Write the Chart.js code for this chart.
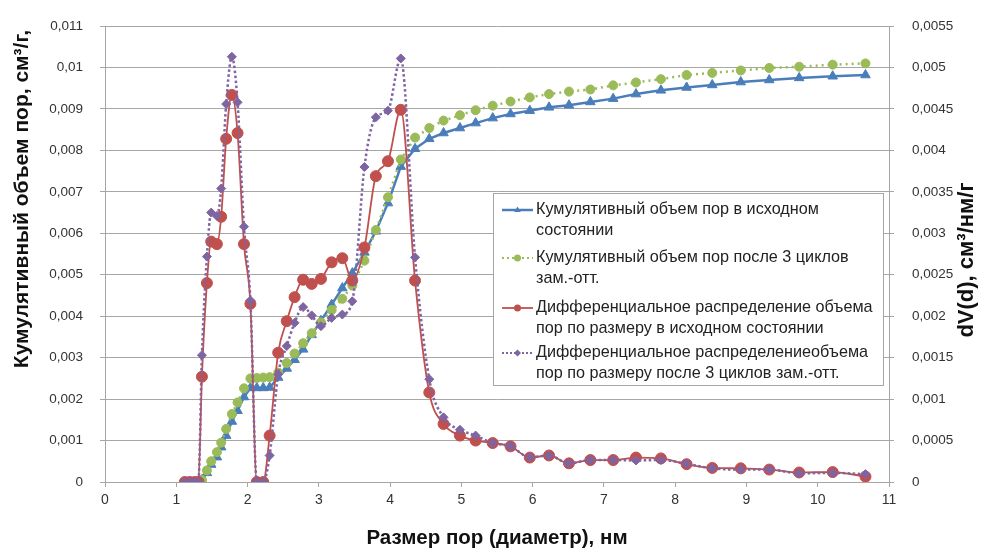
<!DOCTYPE html>
<html><head><meta charset="utf-8">
<script src="https://cdn.jsdelivr.net/npm/chart.js@4.4.1/dist/chart.umd.min.js"></script>
<style>html,body{margin:0;padding:0;background:#fff;}canvas{display:block;}</style>
</head><body>
<canvas id="c" width="987" height="553"></canvas>
<script>
// Pore diameter, nm
const diameters = [1.12,1.19,1.26,1.31,1.36,1.43,1.49,1.57,1.63,1.70,1.78,1.86,1.95,2.04,
  2.13,2.22,2.31,2.43,2.55,2.66,2.78,2.90,3.03,3.18,
  3.33,3.47,3.64,3.80,3.97,4.15,4.35,4.55,4.75,
  4.98,5.20,5.44,5.69,5.96,6.23,6.51,6.81,7.13,7.45,
  7.80,8.16,8.52,8.92,9.32,9.74,10.21,10.67];
// Cumulative pore volume, cm3/g (left axis)
const cumInitial = [null,null,null,null,0.00005,0.00022,0.00042,0.00060,0.00084,0.00112,0.00146,0.00172,0.00205,0.00227,
  0.00227,0.00227,0.00228,0.00252,0.00274,0.00295,0.00320,0.00355,0.00389,0.00428,
  0.00468,0.00504,0.00554,0.00605,0.00673,0.00761,0.00804,0.00828,0.00842,
  0.00854,0.00866,0.00878,0.00888,0.00896,0.00904,0.00909,0.00917,0.00925,0.00936,
  0.00945,0.00952,0.00958,0.00965,0.00970,0.00975,0.00979,0.00982];
const cumCycled = [null,null,null,null,0.00005,0.00028,0.00050,0.00072,0.00095,0.00128,0.00164,0.00192,0.00226,0.00250,
  0.00251,0.00252,0.00253,0.00264,0.00287,0.00310,0.00335,0.00359,0.00385,0.00415,
  0.00442,0.00474,0.00534,0.00608,0.00687,0.00778,0.00831,0.00854,0.00872,
  0.00885,0.00897,0.00908,0.00918,0.00928,0.00936,0.00942,0.00947,0.00957,0.00964,
  0.00972,0.00982,0.00987,0.00993,0.00999,0.01002,0.01007,0.01010];
// Differential distribution dV(d), cm3/nm/g (right axis)
const diffInitial = [0,0,0,0,0.00127,0.00240,0.00290,0.00287,0.00320,0.00414,0.00467,0.00421,0.00287,0.00215,
  0,0,0.00056,0.00156,0.00194,0.00223,0.00244,0.00239,0.00245,0.00265,
  0.00270,0.00243,0.00283,0.00369,0.00387,0.00449,0.00243,0.00108,0.00070,
  0.00056,0.00050,0.00047,0.00043,0.000295,0.00032,0.000225,0.000265,0.000265,0.000295,
  0.000285,0.000215,0.00017,0.000165,0.00015,0.000115,0.00012,0.000065];
const diffCycled = [0,0,0,0,0.00153,0.00272,0.00325,0.00321,0.00354,0.00456,0.00513,0.00458,0.00308,0.00219,
  0,0,0.00032,0.00130,0.00164,0.00192,0.00211,0.00201,0.00188,0.00198,
  0.00202,0.00218,0.00380,0.00440,0.00448,0.00511,0.00271,0.00124,0.00078,
  0.00063,0.00056,0.00047,0.00043,0.00030,0.00032,0.000225,0.000265,0.000265,0.00026,
  0.000265,0.00022,0.000165,0.00015,0.00015,0.000105,0.00011,0.000095];

const xTickLabels = ['0','1','2','3','4','5','6','7','8','9','10','11'];
const leftTickLabels = ['0','0,001','0,002','0,003','0,004','0,005','0,006','0,007','0,008','0,009','0,01','0,011'];
const rightTickLabels = ['0','0,0005','0,001','0,0015','0,002','0,0025','0,003','0,0035','0,004','0,0045','0,005','0,0055'];
const seriesLabels = [
  ['Кумулятивный объем пор в исходном','состоянии'],
  ['Кумулятивный объем пор после 3 циклов','зам.-отт.'],
  ['Дифференциальное распределение объема','пор по размеру в исходном состоянии'],
  ['Дифференциальное распределениеобъема','пор по размеру после 3 циклов зам.-отт.']
];
const leftTitle = 'Кумулятивный объем пор, см³/г,';
const rightTitle = 'dV(d), см³/нм/г';
const xTitle = 'Размер пор (диаметр), нм';

const toXY = arr => diameters.map((d,i)=>({x:d,y:arr[i]})).filter(p=>p.y!==null);

const BLUE='#4a7ebb', GREEN='#9bbb59', RED='#c0504d', PURPLE='#7f64a2';
const FONT='"Liberation Sans", Arial, sans-serif';

const datasets = [
  {label:seriesLabels[0].join(' '), data:toXY(cumInitial), yAxisID:'yL', borderColor:BLUE, backgroundColor:BLUE,
   borderWidth:2.5, pointStyle:'triangle', pointRadius:5.5, pointBorderWidth:1, tension:0, order:4},
  {label:seriesLabels[1].join(' '), data:toXY(cumCycled), yAxisID:'yL', borderColor:GREEN, backgroundColor:GREEN,
   borderWidth:2.5, borderDash:[2,4], pointStyle:'circle', pointRadius:4.5, pointBorderWidth:1, tension:0, order:3},
  {label:seriesLabels[2].join(' '), data:toXY(diffInitial), yAxisID:'yR', borderColor:RED, backgroundColor:RED,
   borderWidth:1.8, pointStyle:'circle', pointRadius:5.5, pointBorderWidth:1, cubicInterpolationMode:'monotone', order:2},
  {label:seriesLabels[3].join(' '), data:toXY(diffCycled), yAxisID:'yR', borderColor:PURPLE, backgroundColor:PURPLE,
   borderWidth:2.5, borderDash:[2.5,2.5], pointStyle:'rectRot', pointRadius:4.5, pointBorderWidth:1, cubicInterpolationMode:'monotone', order:1}
];

const styles = [
  {color:BLUE, width:2.5, dash:[], marker:'triangle'},
  {color:GREEN, width:2, dash:[2,3], marker:'circle'},
  {color:RED, width:1.8, dash:[], marker:'circle'},
  {color:PURPLE, width:2, dash:[2,2], marker:'rectRot'}
];

function drawMarker(ctx, type, x, y, r, color){
  ctx.save(); ctx.fillStyle=color; ctx.beginPath();
  if(type==='triangle'){ctx.moveTo(x,y-r);ctx.lineTo(x+r*0.95,y+r*0.6);ctx.lineTo(x-r*0.95,y+r*0.6);ctx.closePath();}
  else if(type==='circle'){ctx.arc(x,y,r,0,Math.PI*2);}
  else {ctx.moveTo(x,y-r);ctx.lineTo(x+r,y);ctx.lineTo(x,y+r);ctx.lineTo(x-r,y);ctx.closePath();}
  ctx.fill(); ctx.restore();
}

const overlay = {
  id:'overlay',
  afterDraw(chart){
    const ctx = chart.ctx;
    ctx.save();
    ctx.fillStyle='#111';
    ctx.textAlign='center'; ctx.textBaseline='middle';
    ctx.font='bold 21px '+FONT;
    ctx.save(); ctx.translate(22,199); ctx.rotate(-Math.PI/2); ctx.fillText(leftTitle,0,0); ctx.restore();
    ctx.font='bold 22px '+FONT;
    ctx.save(); ctx.translate(967,260); ctx.rotate(-Math.PI/2); ctx.fillText(rightTitle,0,0); ctx.restore();
    // legend
    const bx=493, by=193, bw=390, bh=192;
    ctx.fillStyle='#fff'; ctx.fillRect(bx,by,bw,bh);
    ctx.strokeStyle='#a6a6a6'; ctx.lineWidth=1; ctx.strokeRect(bx+0.5,by+0.5,bw,bh);
    const rowY=[210,258,308,353], lineGap=21;
    ctx.font='16.2px '+FONT; ctx.textAlign='left'; ctx.textBaseline='middle';
    seriesLabels.forEach((lines,i)=>{
      const s=styles[i], y=rowY[i];
      ctx.save(); ctx.strokeStyle=s.color; ctx.lineWidth=s.width; ctx.setLineDash(s.dash);
      ctx.beginPath(); ctx.moveTo(502,y); ctx.lineTo(533,y); ctx.stroke(); ctx.restore();
      drawMarker(ctx,s.marker,517.5,y,3.5,s.color);
      ctx.fillStyle='#222';
      lines.forEach((t,j)=>ctx.fillText(t,536,y+j*lineGap));
    });
    ctx.restore();
  }
};

new Chart(document.getElementById('c'), {
  type:'line',
  data:{datasets},
  plugins:[overlay],
  options:{
    responsive:false, animation:false, devicePixelRatio:1,
    layout:{padding:{top:21,left:0,right:0,bottom:0}},
    plugins:{legend:{display:false}, tooltip:{enabled:false}},
    scales:{
      x:{type:'linear', min:0, max:11, afterFit(s){s.height=71;},
        ticks:{stepSize:1, padding:5, color:'#333', font:{family:FONT,size:14},
          callback:(v,i)=>xTickLabels[i]},
        grid:{drawOnChartArea:false, drawTicks:true, tickLength:5, color:'#a6a6a6'},
        border:{display:true, color:'#a6a6a6'},
        title:{display:true, text:xTitle, color:'#111', font:{family:FONT,size:20.5,weight:'bold'}, padding:{top:0,bottom:2}}
      },
      yL:{type:'linear', position:'left', min:0, max:0.011, afterFit(s){s.width=105;},
        ticks:{stepSize:0.001, padding:17, color:'#333', font:{family:FONT,size:13.5},
          callback:(v,i)=>leftTickLabels[i]},
        grid:{color:'#a6a6a6', lineWidth:1, tickLength:5},
        border:{display:true, color:'#a6a6a6'}
      },
      yR:{type:'linear', position:'right', min:0, max:0.0055, afterFit(s){s.width=98;},
        ticks:{stepSize:0.0005, padding:18, color:'#333', font:{family:FONT,size:13.5},
          callback:(v,i)=>rightTickLabels[i]},
        grid:{drawOnChartArea:false, drawTicks:true, tickLength:5, color:'#a6a6a6'},
        border:{display:true, color:'#a6a6a6'}
      }
    }
  }
});
</script>
</body></html>
